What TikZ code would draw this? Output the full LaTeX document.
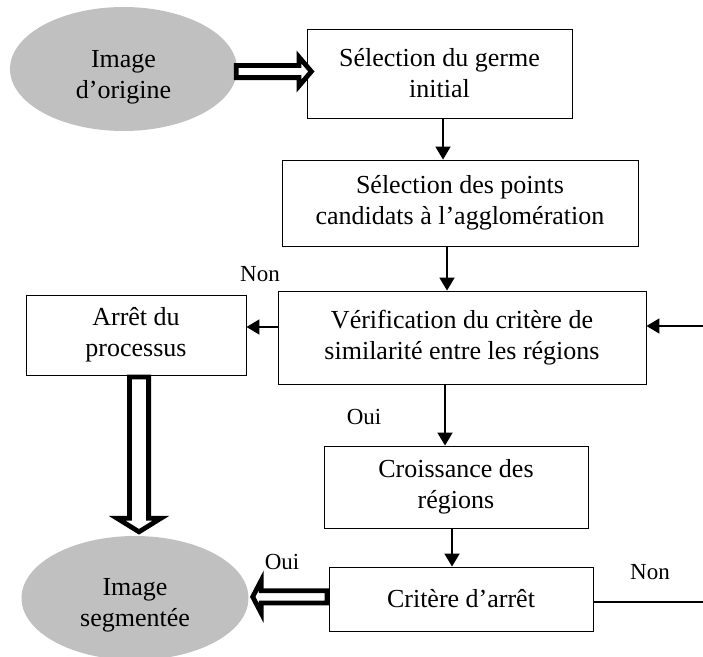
\documentclass[tikz,border=0pt]{standalone}
\usepackage{fontspec}
\setmainfont{Liberation Serif}
\usetikzlibrary{arrows.meta,calc,shapes.geometric}
\definecolor{ellgray}{RGB}{192,192,192}
\begin{document}
\begin{tikzpicture}[x=1pt,y=-1pt,
  box/.style={draw=black,line width=0.9pt,inner sep=0pt,align=center,font=\fontsize{26}{31}\selectfont},
  ell/.style={ellipse,fill=ellgray,inner sep=0pt,minimum width=227pt,minimum height=124pt,align=center,font=\fontsize{26}{31}\selectfont},
  flow/.style={line width=1.9pt,-{Triangle[width=15pt,length=13pt]}},
  plainline/.style={line width=1.9pt},
  hollow/.style={draw=black,line width=4.8pt,fill=white,line join=miter},
  lbl/.style={font=\fontsize{23}{27}\selectfont,inner sep=0pt}]
\useasboundingbox (0,0) rectangle (703,656);

% nodes
\node[ell] (e1) at (123.5,69) {\rule{0pt}{33pt}Image\\d’origine};
\node[box,minimum width=265pt,minimum height=89pt] (b1) at (439.5,73.5) {Sélection du germe\\initial};
\node[box,minimum width=356pt,minimum height=86pt] (b2) at (460,203) {Sélection des points\\candidats à l’agglomération};
\node[box,minimum width=368pt,minimum height=93pt] (b3) at (462,337.5) {Vérification du critère de\\similarité entre les régions};
\node[box,minimum width=220pt,minimum height=80pt] (b6) at (136,335) {Arrêt du\\processus};
\node[box,minimum width=264pt,minimum height=82pt] (b4) at (456,487) {Croissance des\\régions};
\node[box,minimum width=264pt,minimum height=64pt] (b5) at (461,599) {Critère d’arrêt};
\node[ell] (e2) at (135,598) {\rule{0pt}{31pt}Image\\segmentée};

% labels
\node[lbl] (non1) at (260,274) {Non};
\node[lbl] (oui1) at (364,417) {Oui};
\node[lbl] (oui2) at (282,562) {Oui};
\node[lbl] (non2) at (650,572) {Non};

% simple arrows
\draw[flow] (443,0 |- b1.south) -- (443,0 |- b2.north);
\draw[flow] (447,0 |- b2.south) -- (447,0 |- b3.north);
\coordinate (fb) at (703,326);
\draw[flow] (fb) -- (fb -| b3.east);
\draw[flow] (b3.west |- 0,327) -- (b6.east |- 0,327);
\draw[flow] (445,0 |- b3.south) -- (445,0 |- b4.north);
\draw[flow] (452,0 |- b4.south) -- (452,0 |- b5.north);
\coordinate (fn) at (703,602);
\draw[plainline] (b5.east |- fn) -- (fn);

% hollow arrow: e1 -> b1
\coordinate (h1a) at (e1.east |- 0,71.5);
\coordinate (h1b) at (b1.west |- 0,71.5);
\draw[hollow] ($(h1a)+(-1,-6.1)$) -- ($(h1b)+(-7.6,-6.1)$) -- ($(h1b)+(-7.6,-14.5)$)
  -- ($(h1b)+(4.8,0)$) -- ($(h1b)+(-7.6,14.5)$) -- ($(h1b)+(-7.6,6.1)$)
  -- ($(h1a)+(-1,6.1)$) -- cycle;

% hollow arrow: b6 -> e2
\coordinate (v2a) at (139,0 |- b6.south);
\coordinate (v2b) at (139,0 |- e2.north);
\draw[hollow] ($(v2a)+(-9.6,1.5)$) -- ($(v2b)+(-9.6,-17.6)$) -- ($(v2b)+(-22,-17.6)$)
  -- ($(v2b)+(0,-4)$) -- ($(v2b)+(22,-17.6)$) -- ($(v2b)+(9.6,-17.6)$)
  -- ($(v2a)+(9.6,1.5)$) -- cycle;

% hollow arrow: b5 -> e2
\coordinate (h3a) at (b5.west |- 0,596.8);
\coordinate (h3b) at (e2.east |- 0,596.8);
\draw[hollow] ($(h3a)+(-1.5,-6.1)$) -- ($(h3b)+(12.6,-6.1)$) -- ($(h3b)+(12.6,-16.5)$)
  -- ($(h3b)+(4,0)$) -- ($(h3b)+(12.6,16.5)$) -- ($(h3b)+(12.6,6.1)$)
  -- ($(h3a)+(-1.5,6.1)$) -- cycle;
\end{tikzpicture}
\end{document}
